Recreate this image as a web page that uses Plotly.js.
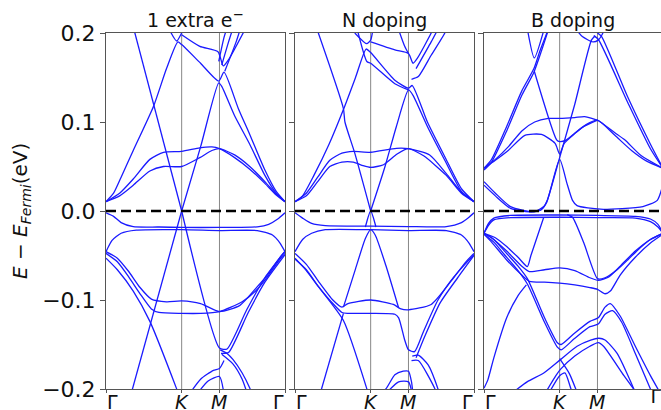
<!DOCTYPE html>
<html><head><meta charset="utf-8">
<script src="https://cdn.plot.ly/plotly-3.0.1.min.js"></script>
<style>html,body{margin:0;padding:0;background:#fff}#chart{width:661px;height:410px}</style>
</head><body><div id="chart"></div>
<script>
const panelTitles = ['1 extra e<sup>−</sup>', 'N doping', 'B doping'];
const kTickVals = [0, 1, 1.5, 2.366];
const kTickText = ['Γ', '<i>K</i>', '<i>M</i>', 'Γ'];
const kSymLines = [1, 1.5];
const eTickVals = [-0.2, -0.1, 0, 0.1, 0.2];
const eTickText = ['−0.2', '−0.1', '0.0', '0.1', '0.2'];
const kEnd = 2.366;
const fermiLevel = 0;

// band structure panel 1: 1 extra e-  ([k, E] pairs)
const bandsExtraE = [
 [[0,0.0105],[0.18,0.02],[0.36,0.036],[0.58,0.058],[0.76,0.066],[1.0,0.067],[1.24,0.071],[1.4,0.072],[1.5,0.070],[1.7,0.06],[1.9,0.047],[2.1,0.031],[2.25,0.018],[2.366,0.0105]],
 [[0,0.0105],[0.18,0.017],[0.36,0.029],[0.58,0.045],[0.76,0.05],[1.0,0.05],[1.24,0.06],[1.4,0.068],[1.5,0.07],[1.7,0.063],[1.9,0.05],[2.1,0.033],[2.25,0.019],[2.366,0.0105]],
 [[0,0.0105],[0.1,0.02],[0.2,0.038],[0.36,0.068],[0.63,0.118],[0.8,0.16],[0.95,0.19],[1.0,0.187],[1.25,0.166],[1.49,0.146],[1.56,0.156],[1.75,0.115],[1.9,0.086],[2.1,0.046],[2.25,0.022],[2.366,0.0105]],
 [[1.0,0.0],[1.25,0.072],[1.49,0.144],[1.53,0.14],[1.7,0.107],[1.9,0.075],[2.1,0.04],[2.25,0.02],[2.366,0.0105]],
 [[0.36,0.207],[1.0,0.0]],
 [[0.83,0.205],[0.934,0.191],[1.0,0.2],[1.03,0.206]],
 [[1.0,0.198],[1.24,0.185],[1.48,0.179],[1.55,0.163],[1.62,0.17],[1.85,0.206]],
 [[1.53,0.164],[1.62,0.19],[1.68,0.206]],
 [[1.49,0.168],[1.56,0.195],[1.6,0.206]],
 [[1.57,0.157],[1.72,0.19],[1.78,0.206]],
 [[0,-0.002],[0.1,-0.006],[0.2,-0.013],[0.36,-0.0176],[0.7,-0.018],[1.0,-0.0185],[1.5,-0.0185],[2.0,-0.0178],[2.15,-0.015],[2.27,-0.009],[2.366,-0.002]],
 [[0,-0.0457],[0.08,-0.033],[0.2,-0.025],[0.4,-0.0215],[1.0,-0.021],[1.5,-0.022],[2.0,-0.022],[2.2,-0.027],[2.3,-0.036],[2.366,-0.0457]],
 [[0,-0.0457],[0.15,-0.053],[0.3,-0.068],[0.45,-0.086],[0.6,-0.099],[0.8,-0.102],[1.0,-0.101],[1.25,-0.104],[1.5,-0.113],[1.77,-0.106],[2.0,-0.085],[2.15,-0.07],[2.3,-0.052],[2.366,-0.0457]],
 [[0,-0.0476],[0.15,-0.057],[0.3,-0.074],[0.45,-0.093],[0.6,-0.11],[0.7,-0.114],[1.0,-0.115],[1.25,-0.115],[1.5,-0.113],[1.8,-0.102],[2.0,-0.088],[2.15,-0.072],[2.3,-0.054],[2.366,-0.0476]],
 [[0,-0.053],[0.15,-0.066],[0.36,-0.09],[0.58,-0.124],[0.93,-0.199],[0.96,-0.206]],
 [[0.33,-0.206],[1.0,0.0]],
 [[1.0,0.0],[1.5,-0.154],[1.6,-0.155],[1.86,-0.111],[2.1,-0.075],[2.366,-0.045]],
 [[1.52,-0.16],[1.62,-0.159],[1.88,-0.114],[2.1,-0.08],[2.366,-0.049]],
 [[1.51,-0.156],[1.6,-0.16],[1.68,-0.167],[1.8,-0.182],[1.9,-0.199],[1.93,-0.206]],
 [[1.53,-0.161],[1.68,-0.172],[1.8,-0.189],[1.87,-0.206]],
 [[1.1,-0.206],[1.25,-0.189],[1.42,-0.179],[1.5,-0.177],[1.56,-0.168]],
 [[1.2,-0.206],[1.35,-0.191],[1.5,-0.186],[1.56,-0.206]]
];

// band structure panel 2: N doping
const bandsNDoping = [
 [[0,0.0105],[0.15,0.02],[0.3,0.038],[0.46,0.057],[0.62,0.065],[0.77,0.067],[1.0,0.066],[1.34,0.0704],[1.5,0.07],[1.78,0.063],[2.0,0.042],[2.2,0.021],[2.366,0.0105]],
 [[0,0.0105],[0.15,0.017],[0.3,0.033],[0.46,0.05],[0.62,0.055],[0.77,0.055],[0.9,0.051],[1.0,0.049],[1.17,0.052],[1.35,0.064],[1.5,0.07],[1.7,0.062],[2.0,0.04],[2.2,0.02],[2.366,0.0105]],
 [[0,0.0105],[0.1,0.017],[0.25,0.04],[0.45,0.075],[0.64,0.114],[0.8,0.15],[0.94,0.182],[1.0,0.178],[1.32,0.147],[1.5,0.138],[1.55,0.141],[1.75,0.1],[1.98,0.061],[2.2,0.025],[2.366,0.0105]],
 [[1.0,0.0],[1.19,0.05],[1.34,0.095],[1.5,0.136],[1.56,0.13],[1.75,0.095],[1.98,0.057],[2.2,0.022],[2.366,0.0105]],
 [[0.28,0.207],[0.64,0.115],[0.66,0.1],[0.79,0.065],[1.0,0.0]],
 [[0.82,0.205],[0.95,0.168],[1.0,0.166],[1.32,0.143],[1.5,0.136]],
 [[0.79,0.2],[0.947,0.188],[1.0,0.192],[1.022,0.2],[1.03,0.206]],
 [[1.0,0.19],[1.32,0.181],[1.5,0.177],[1.56,0.166],[1.62,0.172],[1.8,0.2],[1.83,0.206]],
 [[1.36,0.206],[1.45,0.185],[1.5,0.177]],
 [[1.54,0.148],[1.63,0.151],[1.8,0.175],[1.98,0.2],[2.0,0.206]],
 [[1.6,0.16],[1.8,0.19],[1.9,0.206]],
 [[0,-0.002],[0.1,-0.008],[0.22,-0.014],[0.4,-0.0165],[1.0,-0.017],[1.5,-0.0175],[2.0,-0.0175],[2.2,-0.013],[2.3,-0.007],[2.366,-0.002]],
 [[0,-0.0457],[0.1,-0.032],[0.22,-0.025],[0.4,-0.021],[1.0,-0.021],[1.5,-0.022],[2.0,-0.022],[2.2,-0.027],[2.3,-0.036],[2.366,-0.0457]],
 [[0.64,-0.108],[0.8,-0.065],[0.93,-0.031],[1.0,-0.021],[1.06,-0.027],[1.2,-0.061],[1.37,-0.109]],
 [[0.93,-0.018],[1.0,0.0],[1.07,-0.018]],
 [[0,-0.0476],[0.15,-0.06],[0.31,-0.079],[0.5,-0.1],[0.62,-0.108],[0.7,-0.104],[1.0,-0.1],[1.3,-0.105],[1.4,-0.11],[1.5,-0.111],[1.8,-0.105],[2.07,-0.078],[2.25,-0.058],[2.366,-0.0476]],
 [[0,-0.053],[0.15,-0.067],[0.31,-0.085],[0.5,-0.104],[0.62,-0.114],[0.7,-0.115],[1.0,-0.115],[1.32,-0.116],[1.37,-0.12],[1.45,-0.145],[1.5,-0.156],[1.58,-0.158],[1.7,-0.135],[1.89,-0.1],[2.1,-0.074],[2.366,-0.049]],
 [[1.6,-0.165],[1.72,-0.14],[1.92,-0.103],[2.15,-0.075],[2.366,-0.05]],
 [[0,-0.054],[0.15,-0.066],[0.31,-0.085],[0.64,-0.123],[0.95,-0.2],[0.97,-0.206]],
 [[0.33,-0.206],[0.64,-0.115]],
 [[1.55,-0.163],[1.63,-0.162],[1.76,-0.173],[1.89,-0.2],[1.91,-0.206]],
 [[1.54,-0.168],[1.63,-0.168],[1.85,-0.2],[1.87,-0.206]],
 [[1.1,-0.206],[1.2,-0.2],[1.32,-0.184],[1.43,-0.18],[1.5,-0.18],[1.54,-0.192],[1.56,-0.206]],
 [[1.19,-0.206],[1.37,-0.192],[1.5,-0.192],[1.55,-0.206]]
];

// band structure panel 3: B doping
const bandsBDoping = [
 [[0,0.048],[0.1,0.058],[0.3,0.095],[0.5,0.135],[0.66,0.16],[0.74,0.18],[0.83,0.2],[0.85,0.206]],
 [[0,0.046],[0.1,0.055],[0.3,0.09],[0.5,0.13],[0.66,0.156],[0.76,0.18],[0.86,0.206]],
 [[0.57,0.206],[0.665,0.172],[0.8,0.206]],
 [[0.665,0.157],[0.96,0.08],[1.0,0.078],[1.09,0.08],[1.3,0.094],[1.5,0.102]],
 [[0,0.048],[0.15,0.058],[0.32,0.072],[0.5,0.09],[0.67,0.1],[0.85,0.104],[1.0,0.104],[1.2,0.105],[1.33,0.106],[1.5,0.102],[1.73,0.088],[1.86,0.08],[2.08,0.062],[2.366,0.048]],
 [[0,0.048],[0.15,0.057],[0.32,0.068],[0.54,0.085],[0.76,0.086],[0.94,0.076],[1.0,0.064],[1.06,0.076],[1.2,0.087],[1.35,0.097],[1.5,0.102],[1.73,0.085],[1.95,0.068],[2.15,0.056],[2.366,0.048]],
 [[0,0.033],[0.15,0.02],[0.35,0.005],[0.66,-0.001],[0.79,0.005],[0.84,0.013],[1.0,0.06],[1.2,0.12],[1.42,0.192],[1.47,0.197]],
 [[0,0.029],[0.15,0.017],[0.35,0.003],[0.6,-0.001],[0.75,0.001],[0.83,0.01],[1.0,0.058],[1.1,0.03],[1.17,0.012],[1.23,0.006],[1.54,0.002],[2.1,0.005],[2.29,0.012],[2.366,0.03]],
 [[1.45,0.197],[1.51,0.193],[1.9,0.122],[2.2,0.07],[2.366,0.048]],
 [[1.5,0.2],[1.555,0.196],[1.9,0.128],[2.2,0.075],[2.366,0.048]],
 [[1.2,0.206],[1.3,0.196],[1.44,0.19],[1.51,0.192],[1.56,0.198],[1.6,0.206]],
 [[0,-0.025],[0.06,-0.014],[0.13,-0.008],[0.35,-0.005],[1.0,-0.0045],[1.5,-0.005],[2.0,-0.006],[2.2,-0.009],[2.3,-0.015],[2.366,-0.025]],
 [[0,-0.025],[0.06,-0.016],[0.13,-0.01],[0.35,-0.0075],[1.0,-0.007],[1.5,-0.0075],[2.0,-0.008],[2.2,-0.012],[2.3,-0.018],[2.366,-0.025]],
 [[0,-0.025],[0.15,-0.03],[0.3,-0.04],[0.45,-0.052],[0.573,-0.0625],[0.62,-0.05],[0.79,-0.007]],
 [[0,-0.025],[0.1,-0.03],[0.3,-0.045],[0.5,-0.062],[0.6,-0.068],[0.8,-0.066],[1.0,-0.064],[1.2,-0.067],[1.4,-0.075],[1.51,-0.078],[1.65,-0.074],[1.8,-0.062],[2.0,-0.045],[2.2,-0.032],[2.366,-0.025]],
 [[0,-0.026],[0.1,-0.035],[0.3,-0.055],[0.5,-0.072],[0.6,-0.079],[0.8,-0.08],[1.0,-0.081],[1.2,-0.083],[1.4,-0.086],[1.5,-0.088],[1.6,-0.093],[1.67,-0.09],[1.8,-0.072],[2.0,-0.052],[2.2,-0.036],[2.366,-0.026]],
 [[1.1,-0.004],[1.17,-0.007],[1.32,-0.036],[1.5,-0.076],[1.6,-0.075],[1.76,-0.066],[1.9,-0.055],[2.03,-0.044],[2.2,-0.032],[2.366,-0.025]],
 [[0,-0.025],[0.13,-0.032],[0.26,-0.044],[0.45,-0.062],[0.573,-0.076],[0.8,-0.12],[0.97,-0.148],[1.02,-0.15],[1.2,-0.137],[1.4,-0.124],[1.51,-0.12],[1.6,-0.108],[1.67,-0.104],[1.8,-0.118],[2.0,-0.152],[2.2,-0.185],[2.366,-0.21]],
 [[0,-0.026],[0.13,-0.035],[0.26,-0.048],[0.45,-0.067],[0.573,-0.082],[0.8,-0.125],[0.97,-0.153],[1.02,-0.156],[1.2,-0.143],[1.4,-0.13],[1.51,-0.127],[1.6,-0.116],[1.7,-0.112],[1.82,-0.125],[2.0,-0.16],[2.2,-0.2],[2.25,-0.21]],
 [[0,-0.199],[0.05,-0.19],[0.13,-0.165],[0.3,-0.12],[0.45,-0.095],[0.56,-0.083]],
 [[0.35,-0.206],[0.57,-0.192],[0.79,-0.182],[1.01,-0.167],[1.23,-0.152],[1.41,-0.145],[1.52,-0.143],[1.6,-0.145],[1.76,-0.16],[1.98,-0.2],[2.0,-0.206]],
 [[0.8,-0.206],[0.95,-0.185],[1.01,-0.178],[1.2,-0.163],[1.4,-0.152],[1.51,-0.148],[1.58,-0.152],[1.85,-0.185],[2.03,-0.206]],
 [[0.85,-0.206],[1.0,-0.185],[1.07,-0.182],[1.15,-0.2],[1.18,-0.206]],
 [[1.0,-0.166],[1.13,-0.183],[1.24,-0.206]]
];

const panels = [bandsExtraE, bandsNDoping, bandsBDoping];
const W = 661, H = 410;
const pxPerK = 75.65;
const domains = [[106/W, 285/W], [295/W, 474/W], [484/W, 1]];
const xRanges = [[0, kEnd], [0, kEnd], [0, 177/pxPerK]];

const traces = [];
panels.forEach((bands, i) => {
  const xa = i === 0 ? 'x' : 'x' + (i + 1);
  const ya = i === 0 ? 'y' : 'y' + (i + 1);
  kSymLines.forEach(k => traces.push({x:[k,k], y:[-0.2,0.2], xaxis:xa, yaxis:ya, mode:'lines',
    line:{color:'#7a7a7a', width:0.9}, hoverinfo:'skip', showlegend:false}));
  bands.forEach(b => traces.push({x:b.map(p=>p[0]), y:b.map(p=>p[1]), xaxis:xa, yaxis:ya, mode:'lines',
    line:{color:'#1a1aff', width:1.3, shape:'spline', smoothing:0.6}, hoverinfo:'skip', showlegend:false}));
  traces.push({x:[0,kEnd], y:[fermiLevel,fermiLevel], xaxis:xa, yaxis:ya, mode:'lines',
    line:{color:'#000', width:2.3, dash:'10px,5px'}, hoverinfo:'skip', showlegend:false});
});
// last Γ label of the cut-off third panel, drawn as a text mark at the visible edge
traces.push({x:[xRanges[2][1]], y:[eTickVals[0]], xaxis:'x3', yaxis:'y3', mode:'text',
  text:[kTickText[kTickText.length - 1]], textposition:'bottom left', cliponaxis:false,
  textfont:{size:19, family:'DejaVu Sans', color:'#111'}, hoverinfo:'skip', showlegend:false});

const layout = {
  width: W, height: H, margin:{l:0, r:0, t:33, b:21},
  paper_bgcolor:'#fff', plot_bgcolor:'#fff', showlegend:false,
  font:{family:'DejaVu Sans', color:'#000'},
  annotations: []
};
for (let i = 0; i < 3; i++) {
  const s = i === 0 ? '' : String(i + 1);
  layout['xaxis' + s] = {domain: domains[i], range: xRanges[i], anchor: 'y' + s,
    tickvals: kTickVals, ticks:'outside', ticklen:3, tickcolor:'#555', showticklabels:false,
    showline:true, mirror:true, linecolor:'#555', linewidth:1,
    showgrid:false, zeroline:false, fixedrange:true};
  layout['yaxis' + s] = {domain:[0,1], range:[-0.2,0.2], anchor: 'x' + s,
    tickvals: eTickVals, ticktext: eTickText, ticks:'outside', ticklen:5, tickcolor:'#555',
    showticklabels: i === 0, tickfont:{size:22, family:'DejaVu Sans', color:'#111'},
    showline:true, mirror: i < 2, linecolor:'#555', linewidth:1, showgrid:false, zeroline:false, fixedrange:true};
  const leftPx = domains[i][0] * W;
  const rightPx = leftPx + kEnd * pxPerK;
  layout.annotations.push({text: panelTitles[i], xref:'paper', yref:'paper',
    x:(leftPx + rightPx) / 2 / W, xanchor:'center', y:1, yanchor:'bottom', yshift:0,
    showarrow:false, font:{size:19, family:'DejaVu Sans', color:'#111'}});
  // k-point tick labels (positioned in paper units from the panel's k scale)
  kTickVals.forEach((k, j) => {
    const last = j === kTickVals.length - 1;
    const xPx = leftPx + k * pxPerK + (j === 0 ? -1 : (last ? 1 : 0));
    if (xPx > W) return; // drawn as a text mark instead
    const anchor = j === 0 ? 'left' : (last ? 'right' : 'center');
    layout.annotations.push({text: kTickText[j], xref:'paper', yref:'paper',
      x: xPx / W, y:0, xanchor: anchor, yanchor:'top', yshift:0,
      showarrow:false, font:{size:19, family:'DejaVu Sans', color:'#111'}});
  });
}
layout.annotations.push({text:'<i>E</i> − <i>E</i><sub><i>Fermi</i></sub>(eV)', xref:'paper', yref:'paper',
  x:21/W, y:0.5, xanchor:'center', yanchor:'middle', textangle:-90, showarrow:false,
  font:{size:20, family:'DejaVu Sans', color:'#111'}});

Plotly.newPlot('chart', traces, layout, {staticPlot:true});
</script></body></html>
